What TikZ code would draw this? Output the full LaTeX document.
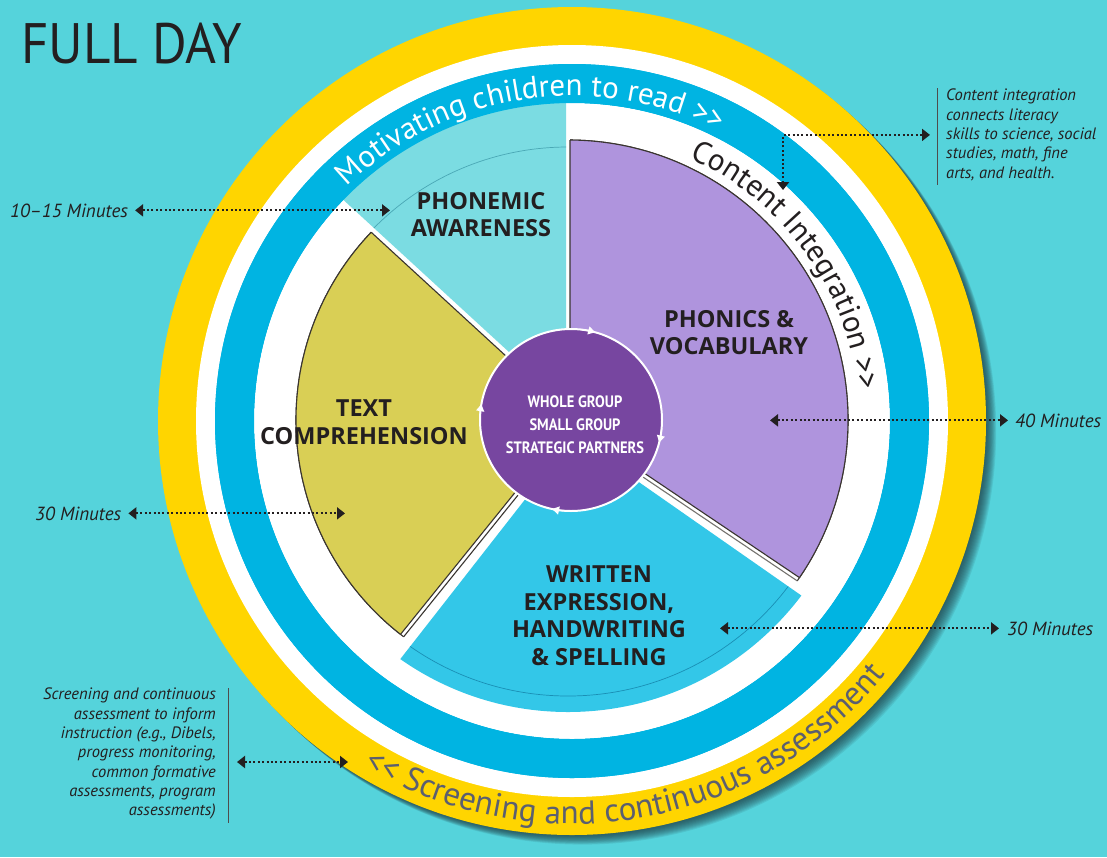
\documentclass[tikz,border=0pt]{standalone}
\usepackage{fontspec}
\usepackage{graphicx}
\setmainfont{PT Sans}
\newfontfamily\labelfont{Open Sans}
\usetikzlibrary{arrows.meta,decorations.text,calc}
\definecolor{bg}{HTML}{55D3DB}
\definecolor{ringyellow}{HTML}{FFD500}
\definecolor{ringblue}{HTML}{00B4E2}
\definecolor{phonemicc}{HTML}{7BDCE2}
\definecolor{writtenc}{HTML}{33C7E8}
\definecolor{phonicsc}{HTML}{AF94DD}
\definecolor{olivec}{HTML}{D9CF55}
\definecolor{centerp}{HTML}{7746A0}
\definecolor{txtdark}{HTML}{231F20}
\definecolor{greytext}{HTML}{5B5F70}
\definecolor{shadowc}{HTML}{1E3C44}
\definecolor{edgec}{HTML}{3A3530}
\definecolor{pline}{HTML}{4AA8B5}
\definecolor{wline}{HTML}{1A8FB5}
\begin{document}
\begin{tikzpicture}[x=1pt,y=-1pt,
  seglabel/.style={font=\labelfont\fontsize{23.5}{27.5}\selectfont\bfseries, text=txtdark, align=center, inner sep=0pt, anchor=north},
  minutes/.style={font=\fontsize{19}{19}\selectfont\itshape, text=txtdark, inner sep=0pt, anchor=base west},
  annot/.style={font=\fontsize{16.5}{19.3}\selectfont\itshape, text=txtdark, inner sep=0pt},
  dotboth/.style={draw=txtdark, line width=2pt, dash pattern=on 2pt off 2.4pt, {Triangle[length=8pt,width=12pt]}-{Triangle[length=8pt,width=12pt]}},
  notebar/.style={draw=txtdark!80, line width=0.9pt},
  edgeline/.style={draw=edgec, line width=1.1pt},
]
\useasboundingbox (0,0) rectangle (1107,857);
\fill[bg] (0,0) rectangle (1107,857);

\coordinate (R0) at (572,421);
\coordinate (C) at (568,420);
\coordinate (CC) at (571,420);

% drop shadow
\foreach \i in {1,...,12}
  \fill[shadowc, opacity=0.1] ($(R0)+(\i*0.85,\i*0.8)$) circle (414);

% rings
\fill[ringyellow] (R0) circle (414);
\fill[white] (R0) circle (376);
\fill[ringblue] (R0) circle (357);
\fill[white] (R0) circle (318);

% phonemic awareness
\begin{scope}
  \clip (R0) circle (340);
  \fill[phonemicc] (566,404.4) -- (566,-600) -- (-29.6,-142.7) -- cycle;
\end{scope}
\begin{scope}
  \clip (566,404.4) -- (566,-600) -- (-29.6,-142.7) -- cycle;
  \draw[pline, line width=0.7pt] (C) circle (273);
\end{scope}

% written expression
\begin{scope}
  \clip (574,436.8) -- (-67,1257) -- (1438,1040) -- cycle;
  \fill[writtenc] (C) circle (292);
  \draw[wline, line width=0.7pt] (C) circle (276);
\end{scope}

% text comprehension backing strip
\begin{scope}
  \clip (577.3,421.6) -- (-33,-139) -- (64.1,1057.5) -- cycle;
  \fill[white] (C) circle (272);
  \draw[edgeline] (C) circle (272);
\end{scope}
\begin{scope}
  \clip (C) circle (272);
  \draw[edgeline] (577.3,421.6) -- (64.1,1057.5);
\end{scope}
% text comprehension
\begin{scope}
  \clip (574.4,418.9) -- (-33,-139) -- (61,1055) -- cycle;
  \fill[olivec] (C) circle (272);
  \draw[edgeline] (C) circle (272);
\end{scope}
\begin{scope}
  \clip (C) circle (272);
  \draw[edgeline] (-33,-139) -- (574.4,418.9) -- (61,1055);
\end{scope}

% phonics backing strip
\begin{scope}
  \clip (570,427.9) -- (570,-600) -- (1397.8,985.3) -- cycle;
  \fill[white] (C) circle (280);
  \draw[edgeline] (C) circle (280);
\end{scope}
\begin{scope}
  \clip (C) circle (280);
  \draw[edgeline, draw=edgec!70] (570,427.9) -- (1397.8,985.3);
\end{scope}
% phonics
\begin{scope}
  \clip (570,423.1) -- (570,-600) -- (1400,982) -- cycle;
  \fill[phonicsc] (C) circle (280);
  \draw[edgeline] (C) circle (280);
\end{scope}
\begin{scope}
  \clip (C) circle (280);
  \draw[edgeline] (570,-600) -- (570,423.1) -- (1400,982);
\end{scope}

% blue ring on top
\fill[ringblue, even odd rule] (R0) circle (357) (R0) circle (318);

% ring texts
\path[decorate, decoration={text along path, text align=center, text color=white,
  text={|\fontsize{31}{31}\selectfont|Motivating children to read >>}}]
  (R0) ++(-148.5:325) arc[start angle=-148.5, end angle=-48.5, radius=325];
\path[decorate, decoration={text along path, text align=center, text color=txtdark,
  text={|\fontsize{31}{31}\selectfont|Content Integration >>}}]
  (R0) ++(-86:288) arc[start angle=-86, end angle=14, radius=288];
\path[decorate, decoration={text along path, text align=center, text color=greytext,
  text={|\fontsize{33}{33}\selectfont|<< Screening and continuous assessment}}]
  (R0) ++(140:403) arc[start angle=140, end angle=20, radius=403];

% hub
\node[circle, fill=centerp, draw=white, line width=2pt, minimum size=182pt, inner sep=0pt] (hub) at (CC) {};
\foreach \a in {-74.6, 14.3, 102, 190}
  \draw[white, line width=1.3pt, -{Triangle[length=7pt,width=8pt]}]
    (CC) ++({\a-9}:91) arc[start angle={\a-9}, end angle=\a, radius=91];
\node[font=\fontsize{16.5}{23}\selectfont\bfseries, text=white, align=center, inner sep=0pt, anchor=north] (hubtext) at (575,396)
  {\scalebox{0.88}[1]{WHOLE GROUP}\\\scalebox{0.88}[1]{SMALL GROUP}\\\scalebox{0.88}[1]{STRATEGIC PARTNERS}};

% segment labels
\node[seglabel] (pa) at (481,192) {PHONEMIC\\AWARENESS};
\node[seglabel] (tc) at (364,400) {TEXT\\COMPREHENSION};
\node[seglabel] (pv) at (729,310) {PHONICS \&\\VOCABULARY};
\node[seglabel] (we) at (599,566) {WRITTEN\\EXPRESSION,\\HANDWRITING\\\& SPELLING};

% title
\node[anchor=base west, font=\fontsize{57}{57}\selectfont, text=txtdark, inner sep=0pt] (title) at (21,63) {\scalebox{0.93}[1]{FULL DAY}};

% minutes labels and arrows
\node[minutes] (m1) at (10,217) {10–15 Minutes};
\coordinate (t1) at (390,211);
\draw[dotboth] ($(m1.east)+(7,0)$) -- (t1 |- m1.east);

\node[minutes] (m2) at (35,520) {30 Minutes};
\coordinate (t2) at (345,514);
\draw[dotboth] ($(m2.east)+(7,0)$) -- (t2 |- m2.east);

\node[minutes] (m3) at (1015,427) {40 Minutes};
\coordinate (t3) at (770,421);
\draw[dotboth] (t3 |- m3.west) -- ($(m3.west)+(-7,0)$);

\node[minutes] (m4) at (1007,635) {30 Minutes};
\coordinate (t4) at (720,629);
\draw[dotboth] (t4 |- m4.west) -- ($(m4.west)+(-8,0)$);

% content integration note
\node[annot, anchor=north west, align=left] (ciNote) at (946,89)
  {Content integration\\connects literacy\\skills to science, social\\studies, math, fine\\arts, and health.};
\draw[notebar] ($(ciNote.north west)+(-9,-1)$) -- ($(ciNote.south west)+(-9,4)$);
\coordinate (ciTip) at (783,190);
\coordinate (ciEnd) at ($(ciNote.west)+(-16,0)$);
\draw[dotboth] (ciTip) |- (ciEnd);

% screening note
\node[annot, anchor=north east, align=right] (scrNote) at (216,688)
  {Screening and continuous\\assessment to inform\\instruction (e.g., Dibels,\\progress monitoring,\\common formative\\assessments, program\\assessments)};
\draw[notebar] ($(scrNote.north east)+(12,0)$) -- ($(scrNote.south east)+(12,3)$);
\coordinate (scrTip) at (348,762);
\draw[dotboth] ($(scrNote.east |- scrTip)+(21,0)$) -- (scrTip);
\end{tikzpicture}
\end{document}
